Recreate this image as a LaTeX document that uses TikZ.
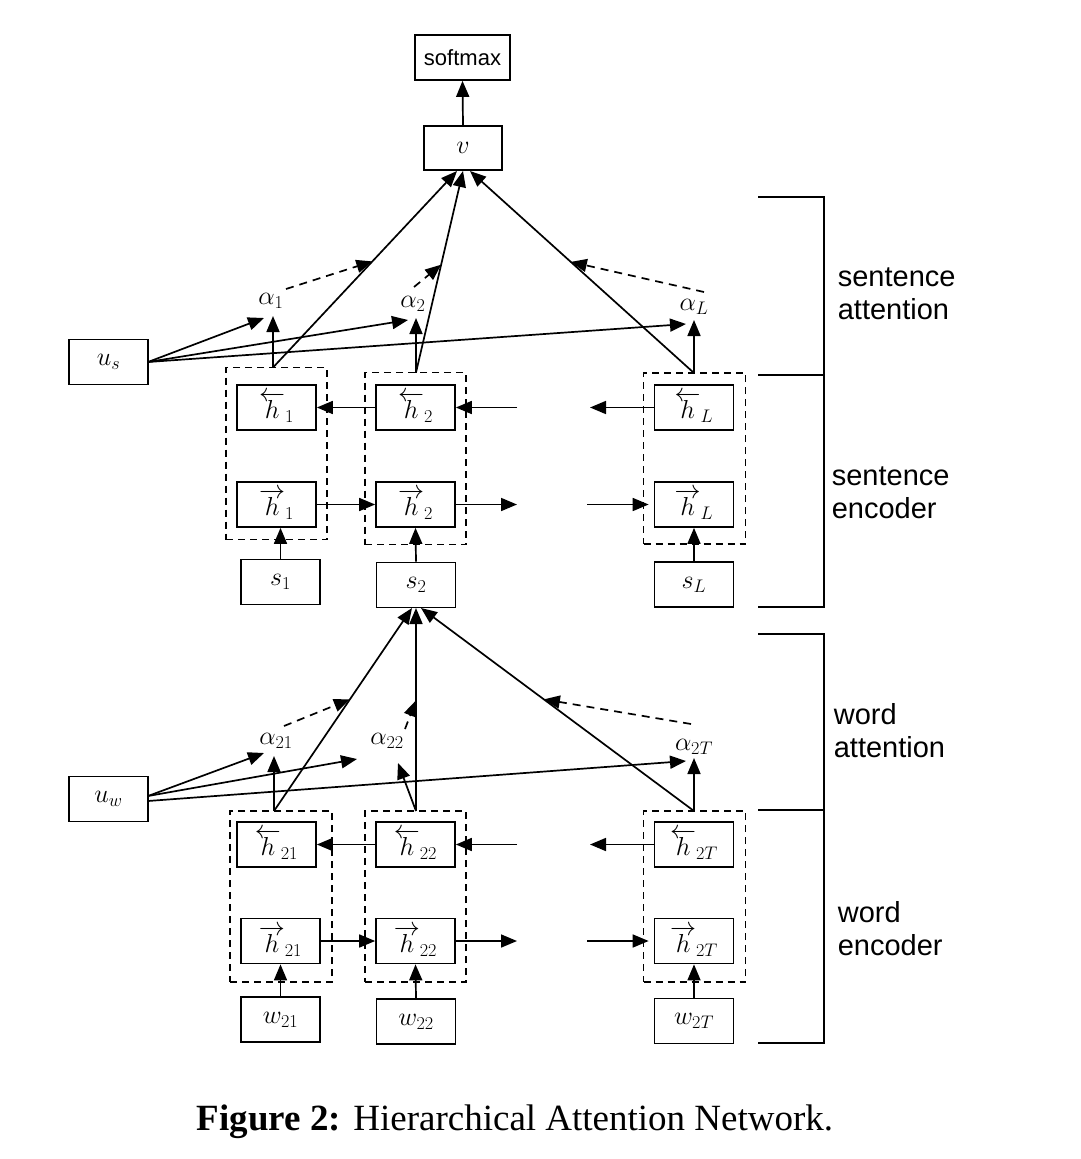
\RequirePackage{fix-cm}
\documentclass[tikz,border=0pt]{standalone}
\usepackage[no-math]{fontspec}
\setmainfont{Liberation Serif}
\setsansfont{Liberation Sans}
\usetikzlibrary{arrows.meta}
\begin{document}
\begin{tikzpicture}[x=1pt,y=-1pt,line width=1.7pt,
  box/.style={draw,minimum width=79pt,minimum height=45pt,inner sep=0pt,font=\fontsize{26}{30}\selectfont},
  dbox/.style={draw,dash pattern=on 7pt off 5pt,inner sep=0pt},
  arr/.style={-{Triangle[length=16pt,width=13pt]}},
  darr/.style={arr,dash pattern=on 8pt off 6pt},
  lbl/.style={font=\fontsize{26}{30}\selectfont,inner sep=1pt},
  side/.style={font=\sffamily\fontsize{29}{33}\selectfont,align=left,anchor=west,inner sep=0pt}]
\fill[white] (0,0) rectangle (1080,1159);
\useasboundingbox (0,0) rectangle (1080,1159);

% top
\node[box,font=\sffamily\fontsize{22}{26}\selectfont,minimum width=95pt] (sm) at (462.5,57.5) {softmax};
\node[box,minimum width=78pt,minimum height=44pt] (v) at (463,148) {$v$};
\draw[arr] (v.north) -- (sm.south);

% sentence level
\node[box] (us) at (108.5,362) {$u_s$};
\node[dbox,minimum width=101pt,minimum height=172pt] (c1) at (276.5,453.5) {};
\node[dbox,minimum width=101pt,minimum height=172pt] (c2) at (415.5,458.5) {};
\node[dbox,minimum width=102pt,minimum height=171pt] (cL) at (694.5,458.5) {};
\node[box] (hb1) at (276.5,407.5) {$\overleftarrow{h}_{1}$};
\node[box] (hb2) at (415.5,407.5) {$\overleftarrow{h}_{2}$};
\node[box] (hbL) at (694,407.5) {$\overleftarrow{h}_{L}$};
\node[box] (hf1) at (276.5,504.5) {$\overrightarrow{h}_{1}$};
\node[box] (hf2) at (415.5,504.5) {$\overrightarrow{h}_{2}$};
\node[box] (hfL) at (694,504.5) {$\overrightarrow{h}_{L}$};
\node[box] (s1) at (280.5,582) {$s_1$};
\node[box] (s2) at (416,585) {$s_2$};
\node[box] (sL) at (694,584.5) {$s_L$};
\node[lbl] (a1) at (271,301) {$\alpha_1$};
\node[lbl] (a2) at (413,304) {$\alpha_2$};
\node[lbl] (aL) at (694,307) {$\alpha_L$};

\draw[arr] (hb2.west) -- (hb1.east);
\coordinate (sr1) at (517,407.5);
\draw[arr] (sr1) -- (hb2.east);
\coordinate (sl1) at (590,407.5);
\draw[arr] (hbL.west) -- (sl1);
\draw[arr] (hf1.east) -- (hf2.west);
\coordinate (sr2) at (517,504.5);
\draw[arr] (hf2.east) -- (sr2);
\coordinate (sl2) at (587,504.5);
\draw[arr] (sl2) -- ([xshift=-5pt]hfL.west);
\draw[arr] (s1.north) -- (s1.north |- hf1.south);
\draw[arr] (s2.north) -- (hf2.south);
\draw[arr] (sL.north) -- (hfL.south);

\coordinate (t1) at (273,367.5);
\coordinate (t2) at (416,372.5);
\coordinate (tL) at (694,373);
\coordinate (va) at (457,171);
\coordinate (vb) at (463,171);
\coordinate (vc) at (470,171);
\coordinate (ta1) at (273,316);
\coordinate (ta2) at (416,318);
\coordinate (taL) at (694,320);
\draw[arr] (t1) -- (ta1);
\draw[arr] (t2) -- (ta2);
\draw[arr] (tL) -- (taL);
\draw[arr] (t1) -- (va) coordinate[pos=0.54] (m1);
\draw[arr] (t2) -- (vb) coordinate[pos=0.535] (m2);
\draw[arr] (tL) -- (vc) coordinate[pos=0.55] (mL);
\coordinate (d1) at (286,289);
\coordinate (d2) at (414,287);
\coordinate (dL) at (704,292);
\draw[darr] (d1) -- (m1);
\draw[darr] (d2) -- (m2);
\draw[darr] (dL) -- (mL);
\coordinate (us0) at (148,362);
\coordinate (ua1) at (264,318);
\coordinate (ua2) at (408,320);
\coordinate (uaL) at (686,324);
\draw[arr] (us0) -- (ua1);
\draw[arr] (us0) -- (ua2);
\draw[arr] (us0) -- (uaL);

% word level
\node[box] (uw) at (108.5,799) {$u_w$};
\node[dbox,minimum width=102pt,minimum height=171pt] (cw1) at (281,896.5) {};
\node[dbox,minimum width=101pt,minimum height=171pt] (cw2) at (415.5,896.5) {};
\node[dbox,minimum width=102pt,minimum height=171pt] (cwT) at (694.5,896.5) {};
\node[box] (hbw1) at (276.5,844.5) {$\overleftarrow{h}_{21}$};
\node[box] (hbw2) at (415.5,844.5) {$\overleftarrow{h}_{22}$};
\node[box] (hbwT) at (694,844.5) {$\overleftarrow{h}_{2T}$};
\node[box] (hfw1) at (280.5,941) {$\overrightarrow{h}_{21}$};
\node[box] (hfw2) at (415.5,941) {$\overrightarrow{h}_{22}$};
\node[box] (hfwT) at (694,941) {$\overrightarrow{h}_{2T}$};
\node[box] (w1) at (280.5,1019.5) {$w_{21}$};
\node[box] (w2) at (416,1021.5) {$w_{22}$};
\node[box] (wT) at (694,1021) {$w_{2T}$};
\node[lbl] (a21) at (276,741) {$\alpha_{21}$};
\node[lbl] (a22) at (387,741) {$\alpha_{22}$};
\node[lbl] (a2T) at (694,747) {$\alpha_{2T}$};

\draw[arr] (hbw2.west) -- (hbw1.east);
\coordinate (wsr1) at (517,844.5);
\draw[arr] (wsr1) -- (hbw2.east);
\coordinate (wsl1) at (590,844.5);
\draw[arr] (hbwT.west) -- (wsl1);
\draw[arr] (hfw1.east) -- (hfw2.west);
\coordinate (wsr2) at (517,941);
\draw[arr] (hfw2.east) -- (wsr2);
\coordinate (wsl2) at (587,941);
\draw[arr] (wsl2) -- ([xshift=-5pt]hfwT.west);
\draw[arr] (w1.north) -- (hfw1.south);
\draw[arr] (w2.north) -- (hfw2.south);
\draw[arr] (wT.north) -- (hfwT.south);

\coordinate (tw1) at (274,811);
\coordinate (tw2) at (416,811);
\coordinate (twT) at (694,811);
\coordinate (sa) at (412,608);
\coordinate (sb) at (416,608);
\coordinate (sc) at (421,608);
\coordinate (twa1) at (274,756);
\coordinate (twa2) at (398,763);
\coordinate (twaT) at (694,758);
\draw[arr] (tw1) -- (twa1);
\draw[arr] (tw2) -- (twa2);
\draw[arr] (twT) -- (twaT);
\draw[arr] (tw1) -- (sa) coordinate[pos=0.55] (mw1);
\draw[arr] (tw2) -- (sb) coordinate[pos=0.545] (mw2);
\draw[arr] (twT) -- (sc) coordinate[pos=0.55] (mwT);
\coordinate (dw1) at (284,726);
\coordinate (dw2) at (405,729);
\coordinate (dwT) at (691,724);
\draw[darr] (dw1) -- (mw1);
\draw[darr] (dw2) -- (mw2);
\draw[darr] (dwT) -- (mwT);
\coordinate (uw0) at (148,796);
\coordinate (uw1) at (148,801);
\coordinate (uwa1) at (264,753);
\coordinate (uwa2) at (357,759);
\coordinate (uwaT) at (686,761);
\draw[arr] (uw0) -- (uwa1);
\draw[arr] (uw0) -- (uwa2);
\draw[arr] (uw1) -- (uwaT);

% brackets
\draw (758,197) -- (824,197) -- (824,607) -- (758,607);
\draw (758,375) -- (824,375);
\draw (758,634) -- (824,634) -- (824,1043) -- (758,1043);
\draw (758,810) -- (824,810);
\node[side] (lsa) at (837,293.5) {sentence\\attention};
\node[side] (lse) at (831,492.5) {sentence\\encoder};
\node[side] (lwa) at (833,730.5) {word\\attention};
\node[side] (lwe) at (837,928.5) {word\\encoder};

\node[inner sep=0pt] (cap) at (515,1122) {\fontsize{37}{40}\selectfont\textbf{Figure 2:} Hierarchical Attention Network.};
\end{tikzpicture}
\end{document}
